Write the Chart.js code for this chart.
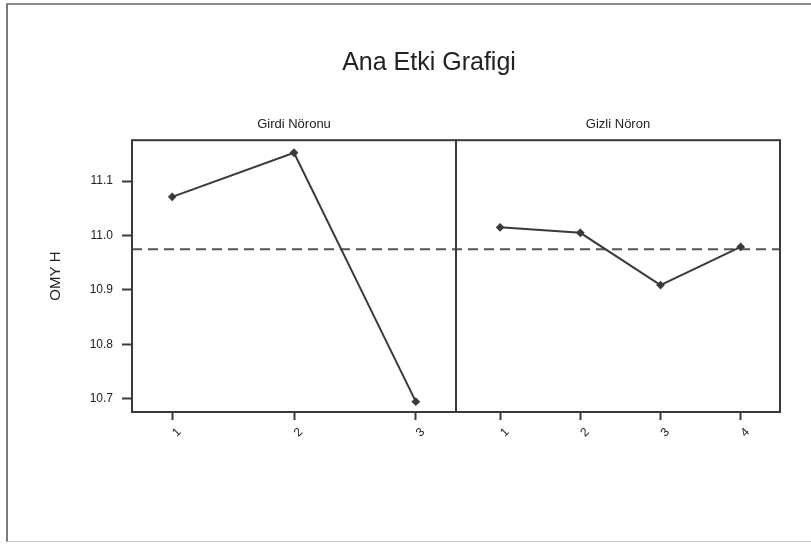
<!DOCTYPE html>
<html>
<head>
<meta charset="utf-8">
<script src="https://cdn.jsdelivr.net/npm/chart.js@4.4.1/dist/chart.umd.min.js"></script>
<style>
    html, body { margin: 0; padding: 0; background: #fff; }
    #wrap { position: relative; width: 811px; height: 544px; }
    #frame {
        position: absolute; left: 6px; top: 3px; width: 803px; height: 536px;
        border-left: 2px solid #7a7a7a; border-top: 2px solid #8c8c8c; border-bottom: 1px solid #c8c8c8;
        pointer-events: none;
    }
</style>
</head>
<body>
<div id="wrap">
    <canvas id="mainEffects" width="811" height="544"></canvas>
    <div id="frame"></div>
</div>
<script>
const chartTitle = 'Ana Etki Grafigi';
const yTitle = 'OMY H';
const panelNames = ['Girdi Nöronu', 'Gizli Nöron'];

// factor levels and mean response per level
const inputLevels = [1, 2, 3];
const inputMeans = [11.071, 11.152, 10.695];
const hiddenLevels = [1, 2, 3, 4];
const hiddenMeans = [11.015, 11.005, 10.909, 10.979];

const yTicks = [10.7, 10.8, 10.9, 11.0, 11.1];
const grandMean = 10.975;

Chart.defaults.font.family = '"Liberation Sans", Arial, sans-serif';
Chart.defaults.color = '#222';

const ink = '#3a3a3a';

function fixedTicks(values) {
    return scale => { scale.ticks = values.map(v => ({ value: v })); };
}

// dashed overall mean line across both panels
const meanLine = {
    id: 'meanLine',
    beforeDatasetsDraw(chart) {
        const { ctx, chartArea, scales } = chart;
        const y = scales.y.getPixelForValue(grandMean);
        ctx.save();
        ctx.strokeStyle = '#555';
        ctx.lineWidth = 2;
        ctx.setLineDash([10, 6]);
        ctx.beginPath();
        ctx.moveTo(chartArea.left, y);
        ctx.lineTo(chartArea.right, y);
        ctx.stroke();
        ctx.restore();
    }
};

// box around each panel
const panelFrame = {
    id: 'panelFrame',
    afterDatasetsDraw(chart) {
        const { ctx, chartArea, scales } = chart;
        ctx.save();
        ctx.strokeStyle = ink;
        ctx.lineWidth = 2;
        ['x1', 'x2'].forEach(id => {
            const s = scales[id];
            ctx.strokeRect(s.left, chartArea.top, s.right - s.left, chartArea.bottom - chartArea.top);
        });
        ctx.restore();
    }
};

function lineSet(levels, means, axis) {
    return {
        data: levels.map((x, i) => ({ x: x, y: means[i] })),
        xAxisID: axis,
        yAxisID: 'y',
        borderColor: ink,
        borderWidth: 2,
        pointStyle: 'rectRot',
        pointRadius: 3,
        pointBackgroundColor: ink,
        pointBorderColor: ink,
        tension: 0
    };
}

function bottomAxis(levels, min, max, weight) {
    return {
        type: 'linear',
        position: 'bottom',
        stack: 'bottom',
        stackWeight: 1,
        weight: weight,
        min: min,
        max: max,
        afterBuildTicks: fixedTicks(levels),
        afterFit: s => { s.height = 132; },
        border: { display: false },
        grid: { drawOnChartArea: false, tickLength: 8, tickWidth: 2, tickColor: ink, color: ink },
        ticks: { minRotation: 45, maxRotation: 45, padding: 5, labelOffset: 7, font: { size: 12 } }
    };
}

function topAxis(name, weight) {
    return {
        type: 'linear',
        position: 'top',
        stack: 'top',
        stackWeight: 1,
        weight: weight,
        min: 0,
        max: 1,
        afterFit: s => { s.height = 62.2; },
        border: { display: false },
        grid: { display: false },
        ticks: { display: false },
        title: { display: true, text: name, font: { size: 13 }, padding: { top: 39, bottom: 0 } }
    };
}

new Chart(document.getElementById('mainEffects'), {
    type: 'line',
    data: {
        datasets: [
            lineSet(inputLevels, inputMeans, 'x1'),
            lineSet(hiddenLevels, hiddenMeans, 'x2')
        ]
    },
    options: {
        responsive: false,
        animation: false,
        layout: { padding: { left: 47, right: 0, top: 0, bottom: 0 } },
        plugins: {
            legend: { display: false },
            tooltip: { enabled: false },
            title: {
                display: true,
                text: chartTitle,
                color: '#222',
                font: { size: 25, weight: 'normal' },
                padding: { top: 48, bottom: 0 }
            }
        },
        scales: {
            y: {
                type: 'linear',
                position: 'left',
                min: 10.676,
                max: 11.175,
                afterBuildTicks: fixedTicks(yTicks),
                afterFit: s => { s.width = 85; },
                border: { display: false },
                grid: { drawOnChartArea: false, tickLength: 10, tickWidth: 2, tickColor: ink, color: ink },
                ticks: { padding: 9, font: { size: 12 }, callback: v => v.toFixed(1) },
                title: { display: true, text: yTitle, font: { size: 15 }, padding: { top: 0, bottom: 0 } }
            },
            yr: {
                type: 'linear',
                position: 'right',
                afterFit: s => { s.width = 31; },
                border: { display: false },
                grid: { display: false },
                ticks: { display: false }
            },
            x1: bottomAxis(inputLevels, 0.67, 3.33, 1),
            x2: bottomAxis(hiddenLevels, 0.45, 4.49, 2),
            x1t: topAxis(panelNames[0], 2),
            x2t: topAxis(panelNames[1], 1)
        }
    },
    plugins: [meanLine, panelFrame]
});
</script>
</body>
</html>
